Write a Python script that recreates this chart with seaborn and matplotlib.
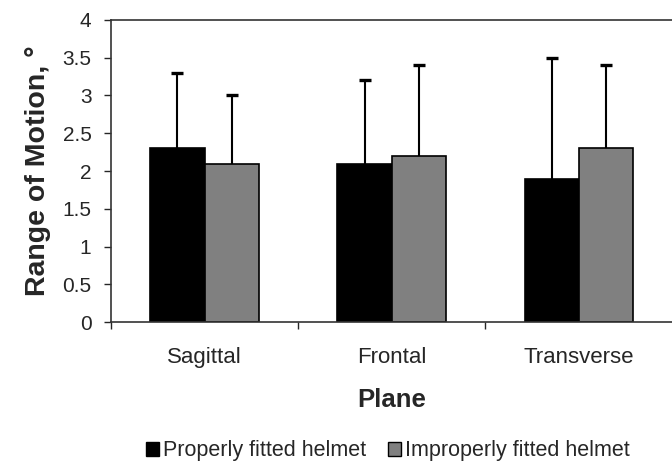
import pandas as pd
import matplotlib
matplotlib.use("Agg")
import matplotlib.pyplot as plt
import matplotlib.patches as mpatches
import seaborn as sns

# Data
planes = ["Sagittal", "Frontal", "Transverse"]
groups = ["Properly fitted helmet", "Improperly fitted helmet"]
proper_mean = [2.3, 2.1, 1.9]
proper_sd = [1.0, 1.1, 1.6]
improper_mean = [2.1, 2.2, 2.3]
improper_sd = [0.9, 1.2, 1.1]
colors = ["#000000", "#808080"]
yticks = [0, 0.5, 1, 1.5, 2, 2.5, 3, 3.5, 4]

df = pd.DataFrame({
    "Plane": planes * 2,
    "Group": [groups[0]] * 3 + [groups[1]] * 3,
    "ROM": proper_mean + improper_mean,
})
sds = [proper_sd, improper_sd]

sns.set_style("white")
plt.rcParams["font.family"] = ["Liberation Sans", "DejaVu Sans"]

fig = plt.figure(figsize=(6.72, 4.63), dpi=100)
ax = fig.add_axes([0.165, 0.304, 0.836, 0.653])

sns.barplot(data=df, x="Plane", y="ROM", hue="Group", order=planes, hue_order=groups,
            palette=colors, width=0.58, gap=0, edgecolor="black", linewidth=1.2,
            errorbar=None, legend=False, ax=ax)

# upper-only error bars (hide the cap at the bar top)
for cont, sd in zip(ax.containers, sds):
    xs = [b.get_x() + b.get_width() / 2 for b in cont]
    ys = [b.get_height() for b in cont]
    eb = ax.errorbar(xs, ys, yerr=[[0] * len(sd), sd], fmt="none", ecolor="black",
                     elinewidth=1.5, capsize=4, capthick=2.4, zorder=3)
    eb[1][0].set_visible(False)

ax.set_xlim(-0.5, 2.5)
ax.set_ylim(0, 4)
ax.set_yticks(yticks)
ax.set_yticklabels([f"{t:g}" for t in yticks], fontsize=15)
ax.tick_params(axis="y", direction="out", length=5, width=1, left=True, pad=9)
ax.set_xticks(range(len(planes)))
ax.set_xticklabels(planes, fontsize=16)
ax.tick_params(axis="x", which="major", length=0, pad=18)
ax.set_xticks([-0.5, 0.5, 1.5], minor=True)
ax.tick_params(axis="x", which="minor", direction="out", length=5, width=1, bottom=True)

for s in ["left", "top", "bottom"]:
    ax.spines[s].set_color("#333333")
    ax.spines[s].set_linewidth(1.2)
ax.spines["right"].set_visible(False)

ax.set_ylabel("Range of Motion, °", fontsize=20.5, fontweight="bold", labelpad=8)
ax.set_xlabel("Plane", fontsize=18.5, fontweight="bold", labelpad=14)

handles = [mpatches.Patch(facecolor=c, edgecolor="black", linewidth=1) for c in colors]
fig.legend(handles, groups, loc="center", bbox_to_anchor=(0.577, 0.026), ncol=2,
           frameon=False, fontsize=15.5, handlelength=0.6, handleheight=0.6,
           handletextpad=0.2, columnspacing=1.0, borderpad=0)

plt.savefig("out.png", dpi=100)
